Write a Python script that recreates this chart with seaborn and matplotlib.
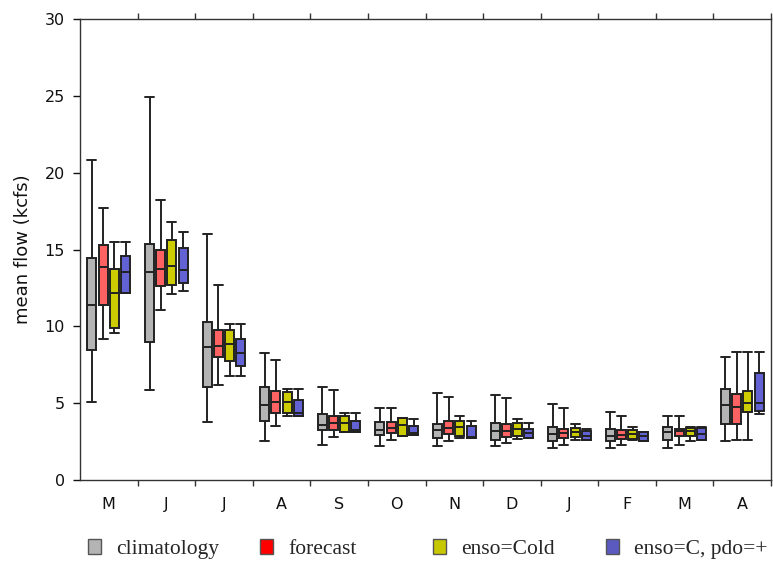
import matplotlib
matplotlib.use("Agg")
import matplotlib.pyplot as plt
from matplotlib.patches import Patch
from matplotlib.ticker import FixedLocator
import seaborn as sns
import pandas as pd

months = ["M", "J", "J", "A", "S", "O", "N", "D", "J", "F", "M", "A"]
series = ["climatology", "forecast", "enso=Cold", "enso=C, pdo=+"]

# five-number summaries per month: [whisker_low, q1, median, q3, whisker_high]
climatology = [
    [5.1, 8.44, 11.36, 14.46, 20.8],
    [5.86, 8.96, 13.53, 15.38, 24.9],
    [3.75, 6.05, 8.65, 10.3, 16.0],
    [2.52, 3.86, 4.88, 6.03, 8.24],
    [2.3, 3.23, 3.56, 4.29, 6.05],
    [2.19, 2.93, 3.25, 3.75, 4.68],
    [2.19, 2.71, 3.23, 3.66, 5.64],
    [2.21, 2.6, 3.21, 3.69, 5.53],
    [2.08, 2.52, 2.99, 3.45, 4.92],
    [2.08, 2.54, 2.86, 3.34, 4.4],
    [2.08, 2.6, 3.14, 3.45, 4.16],
    [2.54, 3.62, 4.9, 5.92, 8.02],
]
forecast = [
    [9.15, 11.36, 13.84, 15.27, 17.7],
    [11.04, 12.6, 13.73, 14.99, 18.2],
    [6.16, 8.0, 8.74, 9.76, 12.69],
    [3.53, 4.38, 5.1, 5.81, 7.81],
    [2.8, 3.27, 3.73, 4.16, 5.83],
    [2.6, 3.06, 3.4, 3.75, 4.68],
    [2.52, 2.97, 3.38, 3.84, 5.42],
    [2.43, 2.82, 3.21, 3.64, 5.31],
    [2.3, 2.73, 3.04, 3.32, 4.68],
    [2.3, 2.67, 2.95, 3.23, 4.19],
    [2.3, 2.89, 3.17, 3.32, 4.16],
    [2.62, 3.64, 4.77, 5.57, 8.33],
]
enso_cold = [
    [9.59, 9.89, 12.19, 13.73, 15.46],
    [12.08, 12.69, 13.94, 15.6, 16.77],
    [6.79, 7.72, 8.85, 9.76, 10.13],
    [4.16, 4.38, 5.05, 5.7, 5.92],
    [3.14, 3.14, 3.69, 4.16, 4.38],
    [2.86, 2.86, 3.58, 4.03, 4.03],
    [2.73, 2.86, 3.47, 3.84, 4.16],
    [2.65, 2.86, 3.3, 3.69, 3.95],
    [2.6, 2.78, 3.12, 3.4, 3.66],
    [2.6, 2.69, 2.99, 3.23, 3.47],
    [2.54, 2.89, 3.19, 3.4, 3.47],
    [2.62, 4.42, 5.03, 5.79, 8.33],
]
enso_c_pdo_plus = [
    [12.17, 12.17, 13.51, 14.55, 15.46],
    [12.3, 12.82, 13.64, 15.07, 16.12],
    [6.79, 7.4, 8.24, 9.15, 10.13],
    [4.16, 4.16, 4.34, 5.2, 5.92],
    [3.12, 3.12, 3.25, 3.86, 4.38],
    [2.93, 2.93, 3.04, 3.53, 3.97],
    [2.71, 2.71, 2.82, 3.53, 3.86],
    [2.73, 2.73, 3.04, 3.3, 3.69],
    [2.6, 2.6, 2.86, 3.17, 3.34],
    [2.54, 2.54, 2.84, 3.14, 3.14],
    [2.6, 2.6, 2.99, 3.4, 3.47],
    [4.29, 4.51, 5.03, 6.98, 8.33],
]

y_ticks = [0, 5, 10, 15, 20, 25, 30]
y_label = "mean flow (kcfs)"

box_colors = ["#b4b4b4", "#ff6262", "#cccc00", "#6262d4"]
legend_colors = ["#b4b4b4", "#ff0000", "#c8c800", "#5a5ac0"]

# long-form table: each box is given by its five-number summary
rows = []
for name, summ in zip(series, [climatology, forecast, enso_cold, enso_c_pdo_plus]):
    for i, vals in enumerate(summ):
        for v in vals:
            rows.append({"month_id": str(i), "series": name, "flow": v})
df = pd.DataFrame(rows)
order = [str(i) for i in range(len(months))]

sns.set_theme(style="ticks")
plt.rcParams["font.family"] = ["DejaVu Sans"]

fig = plt.figure(figsize=(7.73, 5.62), dpi=100)
ax = fig.add_axes([80 / 773, 1 - 480 / 562, (771 - 80) / 773, (480 - 19) / 562])

sns.boxplot(
    data=df, x="month_id", y="flow", hue="series",
    order=order, hue_order=series, palette=box_colors,
    width=0.78, gap=0.2, whis=(0, 100), saturation=1,
    linewidth=1.4, linecolor="#222222", fliersize=0,
    legend=False, ax=ax,
)

# widen caps to full box width
box_w = 0.78 / 4 * 0.8
for ln in ax.lines:
    xd, yd = ln.get_xdata(), ln.get_ydata()
    if len(xd) == 2 and abs(yd[0] - yd[1]) < 1e-9:
        w = abs(xd[1] - xd[0])
        if 0 < w < box_w * 0.9:
            c = (xd[0] + xd[1]) / 2
            ln.set_xdata([c - box_w / 2, c + box_w / 2])

ax.set_xlim(-0.5, 11.5)
ax.set_ylim(0, 30)
ax.set_yticks(y_ticks)
ax.set_xticks(range(len(months)))
ax.set_xticklabels(months)
ax.xaxis.set_minor_locator(FixedLocator([i + 0.5 for i in range(len(months))]))
ax.set_xlabel("")
ax.set_ylabel(y_label, fontsize=13, labelpad=9, color="#111111")

for side in ["left", "bottom", "top", "right"]:
    ax.spines[side].set_visible(True)
    ax.spines[side].set_color("#333333")
    ax.spines[side].set_linewidth(1.0)

ax.tick_params(axis="x", which="major", length=0, pad=12, labelsize=11.5, colors="#111111")
ax.tick_params(axis="x", which="minor", length=4, width=1, direction="out",
               top=True, bottom=True, color="#333333")
ax.tick_params(axis="y", which="major", length=5, width=1, direction="out",
               labelsize=11.5, colors="#111111", pad=6)
ax.tick_params(axis="y", right=False)

# legend along the bottom
lx = [88, 260, 433, 606]
for name, col, x in zip(series, legend_colors, lx):
    fig.legend(
        handles=[Patch(facecolor=col, edgecolor="#555555", linewidth=1.0)],
        labels=[name], loc="center left",
        bbox_to_anchor=(x / 773, 1 - 549 / 562),
        frameon=False, borderpad=0, borderaxespad=0,
        handlelength=0.6, handleheight=0.7, handletextpad=0.7,
        prop={"family": "Liberation Serif", "size": 15.5},
    )

fig.savefig("out.png", dpi=100)
